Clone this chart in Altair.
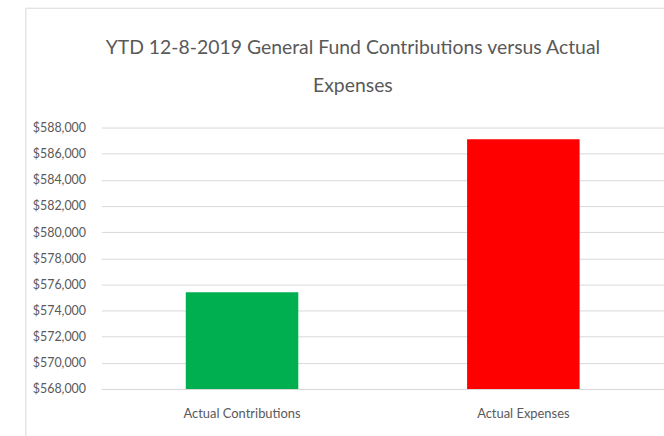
import altair as alt
import pandas as pd

categories = ["Actual Contributions", "Actual Expenses"]
values = [575400, 587100]
colors = ["#00B050", "#FF0000"]
title_lines = ["YTD 12-8-2019 General Fund Contributions versus Actual", "Expenses"]
y_ticks = list(range(568000, 588001, 2000))

FONT = "Lato"
GRAY = "#595959"

df = pd.DataFrame({"category": categories, "value": values, "color": colors})

bars = alt.Chart(df).mark_bar(clip=True).encode(
    x=alt.X("category:N", sort=categories, title=None,
            scale=alt.Scale(paddingInner=0.6, paddingOuter=0.3),
            axis=alt.Axis(labelAngle=0, ticks=False, domainColor="#d9d9d9",
                          labelFont=FONT, labelFontSize=13, labelColor=GRAY,
                          labelPadding=19)),
    y=alt.Y("value:Q", title=None,
            scale=alt.Scale(domain=[568000, 588000], nice=False, zero=False),
            axis=alt.Axis(values=y_ticks, format="$,.0f", ticks=False, domain=False,
                          gridColor="#d9d9d9", labelFont=FONT, labelFontSize=12.5,
                          labelColor=GRAY, labelPadding=16)),
    color=alt.Color("color:N", scale=None),
)

extra = pd.DataFrame({"a": [0]})

border = alt.Chart(extra).mark_rect(
    fill=None, stroke="#d9d9d9", strokeWidth=1
).encode(x=alt.value(-76), x2=alt.value(700), y=alt.value(-120), y2=alt.value(400))

title = alt.Chart(extra).mark_text(
    font=FONT, fontSize=19.5, color=GRAY, align="center", baseline="alphabetic",
    lineHeight=38,
).encode(x=alt.value(253), y=alt.value(-74), text=alt.value(title_lines))

chart = alt.layer(border, bars, title).properties(
    width=566,
    height=263,
    autosize=alt.AutoSizeParams(type="none"),
    padding={"left": 102, "top": 127, "right": 0, "bottom": 46},
).configure_view(stroke=None)

chart.save("out.html", embed_options={"renderer": "svg", "actions": False})
